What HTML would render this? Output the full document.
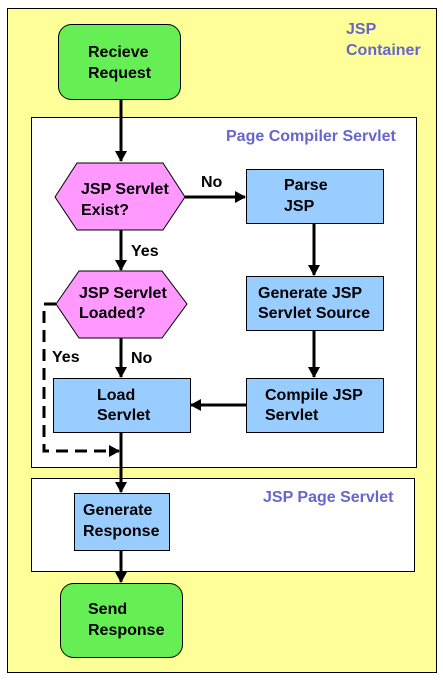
<!DOCTYPE html>
<html><head><style>
body{margin:0;width:443px;height:679px;background:#fff;overflow:hidden}
text{font-family:"Liberation Sans",Arial,sans-serif;font-weight:bold;font-size:16px}
</style></head><body>
<svg width="443" height="679" xmlns="http://www.w3.org/2000/svg">
<defs><marker id="a" markerWidth="12" markerHeight="12" refX="10" refY="6" orient="auto" markerUnits="userSpaceOnUse"><path d="M0,0 L11,6 L0,12 z" fill="#000"/></marker></defs>
<rect x="7.5" y="8.5" width="429" height="664" fill="#ffff99" stroke="#000"/>
<text x="346" y="34" fill="#6666cc">JSP</text>
<text x="346" y="55" fill="#6666cc">Container</text>
<rect x="58.5" y="24.5" width="122" height="75" rx="13" fill="#66ee55" stroke="#000"/>
<text x="88" y="57" fill="#000">Recieve</text>
<text x="88" y="78" fill="#000">Request</text>
<rect x="31.5" y="117.5" width="385" height="350" fill="#fff" stroke="#000"/>
<text x="226" y="141" fill="#6666cc">Page Compiler Servlet</text>
<rect x="31.5" y="478.5" width="383" height="93" fill="#fff" stroke="#000"/>
<text x="263" y="502" fill="#6666cc">JSP Page Servlet</text>
<g stroke="#000" stroke-width="3" fill="none">
<line x1="121" y1="100" x2="121" y2="161" marker-end="url(#a)"/>
<line x1="185" y1="197" x2="245" y2="197" marker-end="url(#a)"/>
<line x1="121" y1="230" x2="121" y2="270" marker-end="url(#a)"/>
<line x1="121" y1="338" x2="121" y2="377" marker-end="url(#a)"/>
<line x1="314" y1="223" x2="314" y2="275" marker-end="url(#a)"/>
<line x1="314" y1="330" x2="314" y2="377" marker-end="url(#a)"/>
<line x1="246" y1="405" x2="191" y2="405" marker-end="url(#a)"/>
<line x1="121" y1="432" x2="121" y2="492" marker-end="url(#a)"/>
<line x1="121" y1="550" x2="121" y2="582" marker-end="url(#a)"/>
<path d="M56,304 H44 V451 H119" stroke-dasharray="12,7" marker-end="url(#a)"/>
</g>
<polygon points="55,197 77,163 163,163 185,197 163,230 77,230" fill="#ff99ff" stroke="#000"/>
<text x="81" y="194">JSP Servlet</text>
<text x="81" y="215">Exist?</text>
<polygon points="56,304 79,271 162,271 187,304 162,338 79,338" fill="#ff99ff" stroke="#000"/>
<text x="79" y="298">JSP Servlet</text>
<text x="79" y="318">Loaded?</text>
<text x="201" y="187">No</text>
<text x="131" y="256">Yes</text>
<text x="52" y="362">Yes</text>
<text x="131" y="363">No</text>
<g fill="#99ccff" stroke="#000">
<rect x="246.5" y="169.5" width="137" height="54"/>
<rect x="246.5" y="276.5" width="137" height="54"/>
<rect x="53.5" y="378.5" width="137" height="54"/>
<rect x="246.5" y="378.5" width="137" height="54"/>
<rect x="74.5" y="493.5" width="95" height="57"/>
</g>
<text x="284" y="190">Parse</text>
<text x="284" y="211">JSP</text>
<text x="258" y="298">Generate JSP</text>
<text x="258" y="318">Servlet Source</text>
<text x="97" y="400">Load</text>
<text x="97" y="420">Servlet</text>
<text x="265" y="400">Compile JSP</text>
<text x="265" y="420">Servlet</text>
<text x="83" y="515">Generate</text>
<text x="83" y="536">Response</text>
<rect x="60.5" y="583.5" width="122" height="74" rx="13" fill="#66ee55" stroke="#000"/>
<text x="88" y="614">Send</text>
<text x="88" y="635">Response</text>
</svg>
</body></html>
